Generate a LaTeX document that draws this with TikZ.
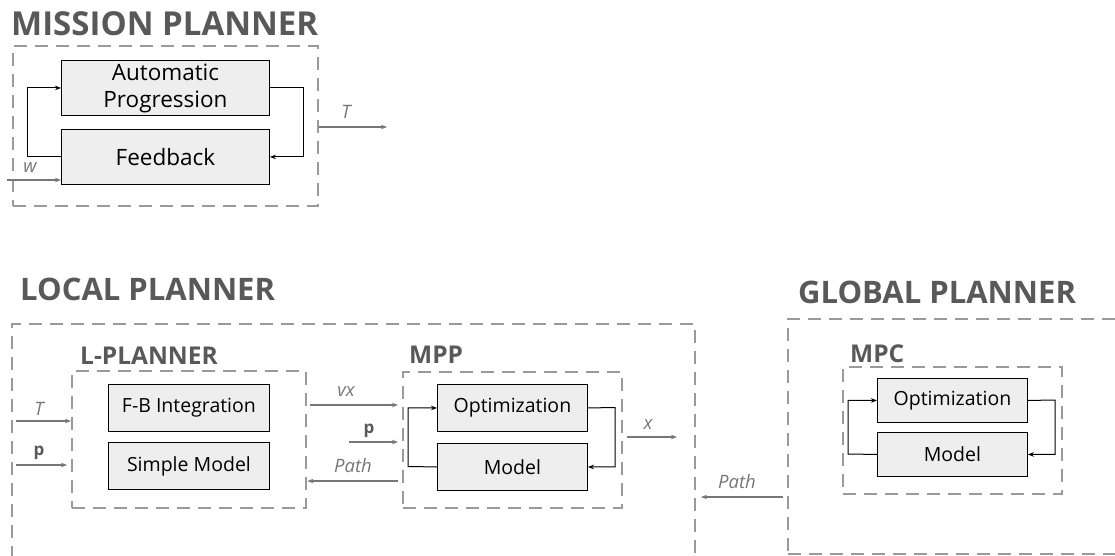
\documentclass[tikz,border=0pt]{standalone}
\usepackage{fontspec}
\setmainfont{Open Sans}
\usetikzlibrary{arrows.meta}
\definecolor{ttl}{HTML}{595959}
\definecolor{lbl}{HTML}{777777}
\definecolor{dsh}{HTML}{9A9A9A}
\definecolor{bfill}{HTML}{EEEEEE}
\tikzset{
  dbox/.style={draw=dsh, line width=2.4pt, dash pattern=on 13pt off 8pt, anchor=north west, inner sep=0pt},
  blk/.style={draw=black, fill=bfill, line width=0.9pt, anchor=north west, align=center, inner sep=0pt, font=\fontsize{22.5}{27}\selectfont},
  blks/.style={blk, font=\fontsize{19.5}{22}\selectfont},
  ttlA/.style={text=ttl, font=\fontsize{31}{34}\selectfont\bfseries, anchor=west, inner sep=0pt},
  ttlM/.style={ttlA, font=\fontsize{33}{36}\selectfont\bfseries},
  ttlB/.style={text=ttl, font=\fontsize{24.5}{28}\selectfont\bfseries, anchor=west, inner sep=0pt},
  lab/.style={text=lbl, font=\fontsize{18.5}{20}\selectfont\itshape, inner sep=0pt},
  labp/.style={text=ttl, font=\fontsize{17}{19}\selectfont\bfseries, inner sep=0pt},
  garrow/.style={draw=lbl, line width=1.1pt, -{Stealth[length=6pt,width=4.5pt]}},
  barrow/.style={draw=black, line width=1pt, -{Stealth[length=6pt,width=4.5pt]}},
}
\begin{document}
\begin{tikzpicture}[x=1pt,y=-1pt]
\clip (0,0) rectangle (1115,555);
\fill[white] (0,0) rectangle (1115,555);

% ---------------- MISSION PLANNER
\node[ttlM] (tmp) at (11,24) {MISSION PLANNER};
\node[dbox, minimum width=305pt, minimum height=160pt] (mp) at (12,45) {};
\node[blk, minimum width=208pt, minimum height=55pt] (ap) at (61,60) {Automatic\\Progression};
\node[blk, minimum width=208pt, minimum height=55pt] (fb) at (61,129) {Feedback};
\draw[barrow] (fb.west) -- ++(-34,0) |- (ap.west);
\draw[barrow] (ap.east) -- ++(34,0) |- (fb.east);
\coordinate (win) at (7,180);
\draw[garrow] (win) -- (win -| fb.west);
\node[lab] (lw) at (30,168) {w};
\coordinate (tout) at (387,127);
\draw[garrow] (tout -| mp.east) -- (tout);
\node[lab] (lT) at (346,112) {T};

% ---------------- LOCAL PLANNER
\node[ttlA] (tlp) at (20,289) {LOCAL PLANNER};
\node[dbox, minimum width=683pt, minimum height=260pt] (lp) at (11,323) {};
\node[ttlB] (tlpl) at (80,356) {L-PLANNER};
\node[dbox, minimum width=234pt, minimum height=137pt] (lpl) at (71,370) {};
\node[blks, minimum width=161pt, minimum height=47pt] (fbi) at (108,384) {F-B Integration};
\node[blks, minimum width=161pt, minimum height=47pt] (sm) at (108,442) {Simple Model};
\coordinate (tin) at (16,421);
\draw[garrow] (tin) -- (tin -| lpl.west);
\node[lab] (lT2) at (39,409) {T};
\coordinate (pin) at (16,465);
\draw[garrow] (pin) -- (67,465);
\node[labp] (lp1) at (39,453) {p};

\node[ttlB] (tmpp) at (409,355) {MPP};
\node[dbox, minimum width=219pt, minimum height=136pt] (mpp) at (402,371) {};
\node[blks, minimum width=150pt, minimum height=47pt] (opt) at (437,384) {Optimization};
\node[blks, minimum width=150pt, minimum height=47pt] (mod) at (437,443) {Model};
\draw[barrow] (mod.west) -- (408,466.5) |- (opt.west);
\draw[barrow] (opt.east) -- (615,407.5) |- (mod.east);

\coordinate (vxs) at (310,405);
\coordinate (vxe) at (398,405);
\draw[garrow] (vxs) -- (vxe);
\node[lab] (lvx) at (346,392) {vx};
\coordinate (p2) at (349,442);
\draw[garrow] (p2) -- (398,442);
\node[labp] (lp2) at (369,431) {p};
\coordinate (pth) at (398,481);
\draw[garrow] (pth) -- (pth -| lpl.east);
\node[lab] (lpath) at (353,466) {Path};
\coordinate (xo) at (677,437);
\draw[garrow] (627,437) -- (xo);
\node[lab] (lx) at (648,425) {x};

% ---------------- GLOBAL PLANNER
\node[ttlA] (tgp) at (798,292) {GLOBAL PLANNER};
\node[dbox, minimum width=340pt, minimum height=235pt] (gp) at (787,318) {};
\node[ttlB] (tmpc) at (850,354) {MPC};
\node[dbox, minimum width=219pt, minimum height=127pt] (mpc) at (842,366) {};
\node[blks, minimum width=150pt, minimum height=44pt] (opt2) at (877,378) {Optimization};
\node[blks, minimum width=150pt, minimum height=44pt] (mod2) at (877,432) {Model};
\draw[barrow] (mod2.west) -- (848,454) |- (opt2.west);
\draw[barrow] (opt2.east) -- (1055,400) |- (mod2.east);
\coordinate (gpath) at (701,497);
\draw[garrow] (783,497) -- (gpath);
\node[lab] (lgpath) at (737,482) {Path};
\end{tikzpicture}
\end{document}
